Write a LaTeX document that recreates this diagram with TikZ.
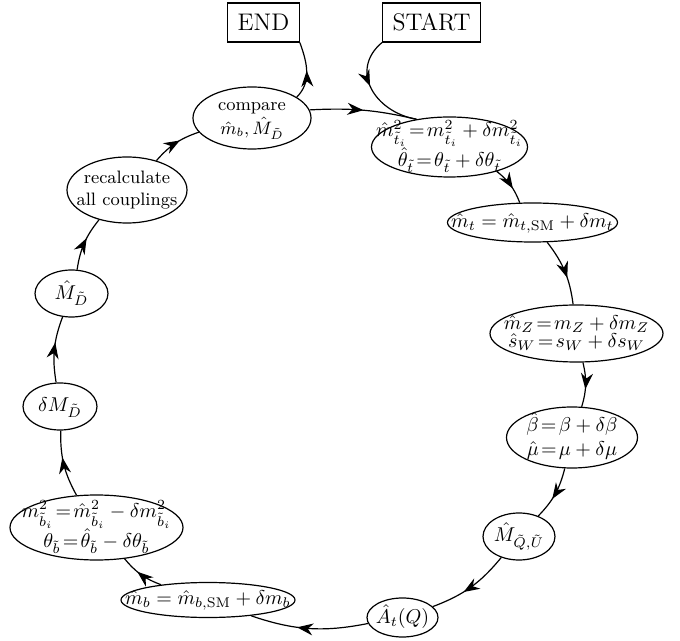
\documentclass[tikz,border=0pt]{standalone}
\usetikzlibrary{shapes.geometric,arrows.meta,decorations.markings}

% text of an oval: takes no room, the oval size is set by hand
\newcommand{\ovtext}[1]{\makebox[0pt]{\raisebox{-0.25em}[0pt][0pt]{\begin{tabular}{@{}c@{}}#1\end{tabular}}}}

\tikzset{
  oval/.style 2 args={draw, semithick, ellipse, inner sep=0pt, minimum width=#1, minimum height=#2},
  endbox/.style={draw, semithick, font=\large, inner xsep=5pt, minimum height=19.5pt},
  link/.style={semithick, postaction={decorate},
    decoration={markings, mark=at position #1 with {\arrow{Stealth[length=8pt,width=6pt]}}}},
  link/.default=0.6
}

\begin{document}
\begin{tikzpicture}[x=0.5pt, y=0.5pt]
    \useasboundingbox (0,0) rectangle (680,-641);

    % Start and end
    \node[endbox] (done) at (263.5,-22.5) {END};
    \node[endbox] (start) at (431.5,-22.5) {START};

    % The loop
    \node[oval={59pt}{31pt}, font=\small] (cmp) at (252,-118) {\ovtext{compare\\ $\hat m_b, \hat M_{\tilde D}$}};
    \node[oval={78pt}{30pt}] (stmix) at (449.5,-147) {\ovtext{$\hat m^2_{\tilde t_i}\!=\!m^2_{\tilde t_i} + \delta m^2_{\tilde t_i}$\\[2pt] $\hat\theta_{\tilde t}\!=\!\theta_{\tilde t} + \delta\theta_{\tilde t}$}};
    \node[oval={85pt}{19.5pt}] (mt) at (532.5,-222.5) {\ovtext{$\hat m_t = \hat m_{t,\mathrm{SM}} + \delta m_t$}};
    \node[oval={86.5pt}{28.5pt}] (mz) at (576.5,-333.5) {\ovtext{$\hat m_Z\!=\!m_Z + \delta m_Z$\\[-3pt] $\hat s_W\!=\!s_W + \delta s_W$}};
    \node[oval={65.5pt}{30.5pt}] (beta) at (572,-437.5) {\ovtext{$\hat\beta\!=\!\beta + \delta\beta$\\ $\hat\mu\!=\!\mu + \delta\mu$}};
    \node[oval={36pt}{23.5pt}] (mqu) at (519,-536.5) {\ovtext{$\hat M_{\tilde Q,\tilde U}$}};
    \node[oval={35.5pt}{19.5pt}] (at) at (402.5,-617.5) {\ovtext{$\hat A_t(Q)$}};
    \node[oval={87pt}{17.5pt}] (mb) at (208,-600) {\ovtext{$\hat m_b = \hat m_{b,\mathrm{SM}} + \delta m_b$}};
    \node[oval={86.5pt}{32.5pt}] (sbmix) at (96.5,-527.5) {\ovtext{$m^2_{\tilde b_i}\!=\!\hat m^2_{\tilde b_i} - \delta m^2_{\tilde b_i}$\\[2pt] $\theta_{\tilde b}\!=\!\hat\theta_{\tilde b} - \delta\theta_{\tilde b}$}};
    \node[oval={37pt}{23.5pt}] (dmd) at (60,-406.5) {\ovtext{$\delta M_{\tilde D}$}};
    \node[oval={36.5pt}{23.5pt}] (md) at (71.5,-293.5) {\ovtext{$\hat M_{\tilde D}$}};
    \node[oval={60pt}{33pt}, font=\small] (recalc) at (127,-190) {\ovtext{recalculate\\ all couplings}};

    % Arrows round the loop
    \foreach \a/\b in {stmix/mt, mt/mz, mz/beta, beta/mqu, mqu/at, at/mb, mb/sbmix, sbmix/dmd, dmd/md, md/recalc, recalc/cmp}
        \draw[link] (\a) to[bend left=15] (\b);
    \draw[link=0.5] (cmp.8) to[bend left=8] (stmix.140);
    \draw[link=0.45] (start.south west) to[out=-140, in=170, looseness=1.3] (stmix.140);
    \draw[link=0.5] (cmp.25) to[out=45, in=-70] (done.south east);
\end{tikzpicture}
\end{document}
